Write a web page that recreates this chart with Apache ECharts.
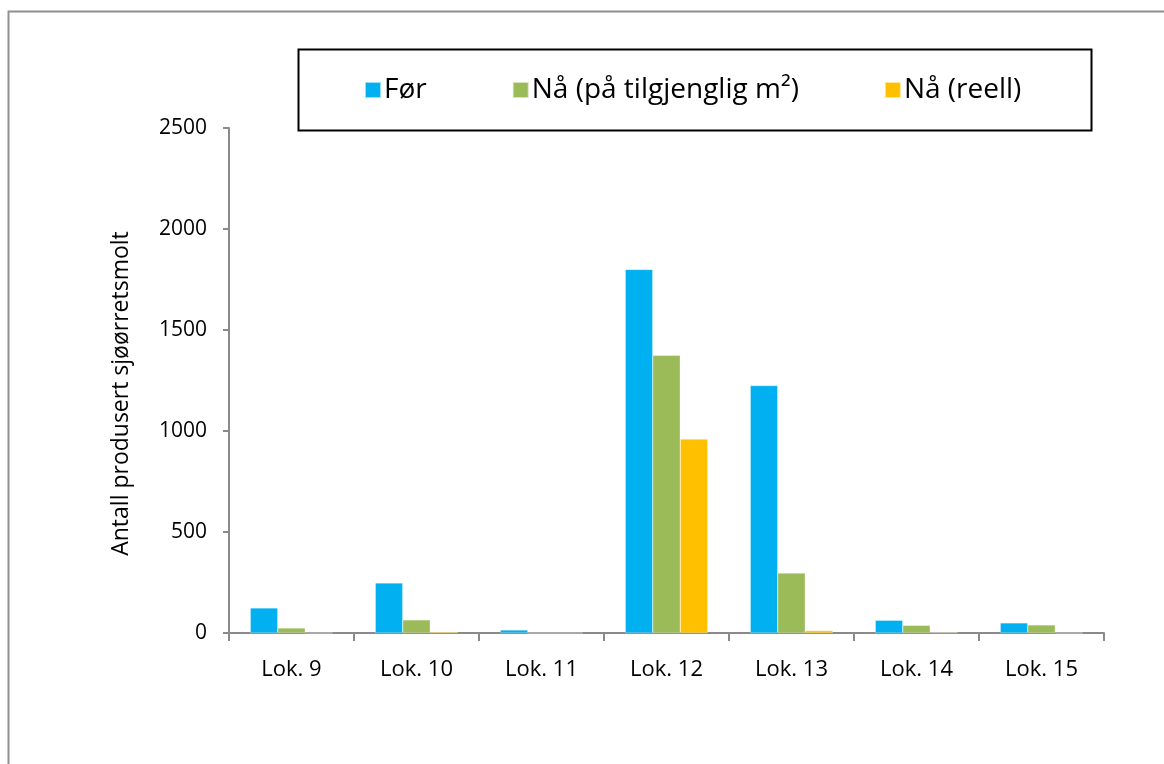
<!DOCTYPE html>
<html>
<head>
<meta charset="utf-8">
<script src="https://cdn.jsdelivr.net/npm/echarts@6/dist/echarts.min.js"></script>
<style>
  html, body { margin: 0; padding: 0; background: #fff; }
  #chart { width: 1164px; height: 764px; }
</style>
</head>
<body>
<div id="chart"></div>
<script>
// Localities along the x axis
const categories = ['Lok. 9', 'Lok. 10', 'Lok. 11', 'Lok. 12', 'Lok. 13', 'Lok. 14', 'Lok. 15'];

// Number of sea trout smolt produced per locality
const forValues = [124, 248, 15, 1800, 1225, 63, 50];        // Før
const naAreaValues = [25, 65, 0, 1375, 297, 38, 40];         // Nå (på tilgjenglig m²)
const naRealValues = [0, 5, 0, 960, 12, 3, 0];               // Nå (reell)

const yTicks = { min: 0, max: 2500, interval: 500 };

const FONT = '"Open Sans", "Noto Sans", sans-serif';
const AXIS_GREY = '#8a8a8a';

const chart = echarts.init(document.getElementById('chart'), null, { renderer: 'canvas' });

const barStyle = (color) => ({ color: color, borderColor: 'rgba(255,255,255,0.6)', borderWidth: 0.5 });

chart.setOption({
  backgroundColor: '#ffffff',
  animation: false,
  graphic: [
    // outer chart-area frame (runs off the right and bottom edges)
    {
      type: 'rect', silent: true,
      shape: { x: 8.5, y: 11.5, width: 1200, height: 800 },
      style: { fill: 'none', stroke: '#8f8f8f', lineWidth: 2 }
    },
    // legend frame
    {
      type: 'rect', silent: true,
      shape: { x: 298.5, y: 49.5, width: 793, height: 81 },
      style: { fill: 'none', stroke: '#000', lineWidth: 2 }
    }
  ],
  legend: {
    top: 76,
    left: 364,
    padding: 0,
    itemWidth: 16,
    itemHeight: 16,
    itemGap: 85,
    icon: 'rect',
    textStyle: { fontFamily: FONT, fontSize: 28, color: '#000', padding: [0, 0, 0, -2] },
    data: ['Før', 'Nå (på tilgjenglig m²)', 'Nå (reell)']
  },
  grid: { left: 229, right: 60, top: 128, bottom: 131, containLabel: false },
  xAxis: {
    type: 'category',
    data: categories,
    axisLine: { show: true, lineStyle: { color: AXIS_GREY, width: 2 } },
    axisTick: { show: true, length: 8, lineStyle: { color: AXIS_GREY, width: 2 } },
    axisLabel: { fontFamily: FONT, fontSize: 22, color: '#000', margin: 26 }
  },
  yAxis: {
    type: 'value',
    min: yTicks.min,
    max: yTicks.max,
    interval: yTicks.interval,
    name: 'Antall produsert sjøørretsmolt',
    nameLocation: 'middle',
    nameGap: 96,
    nameTextStyle: { fontFamily: FONT, fontSize: 23, color: '#000', padding: [0, 26, 0, 0] },
    splitLine: { show: false },
    axisLine: { show: true, lineStyle: { color: AXIS_GREY, width: 2 } },
    axisTick: { show: true, length: 6, lineStyle: { color: AXIS_GREY, width: 2 } },
    axisLabel: { fontFamily: FONT, fontSize: 21, color: '#000', margin: 22, formatter: (v) => String(v) }
  },
  series: [
    { name: 'Før', type: 'bar', data: forValues, barGap: '0%', barCategoryGap: '34%', itemStyle: barStyle('#00B0F0') },
    { name: 'Nå (på tilgjenglig m²)', type: 'bar', data: naAreaValues, barGap: '0%', barCategoryGap: '34%', itemStyle: barStyle('#9BBB59') },
    { name: 'Nå (reell)', type: 'bar', data: naRealValues, barGap: '0%', barCategoryGap: '34%', itemStyle: barStyle('#FFC000') }
  ]
});
</script>
</body>
</html>
